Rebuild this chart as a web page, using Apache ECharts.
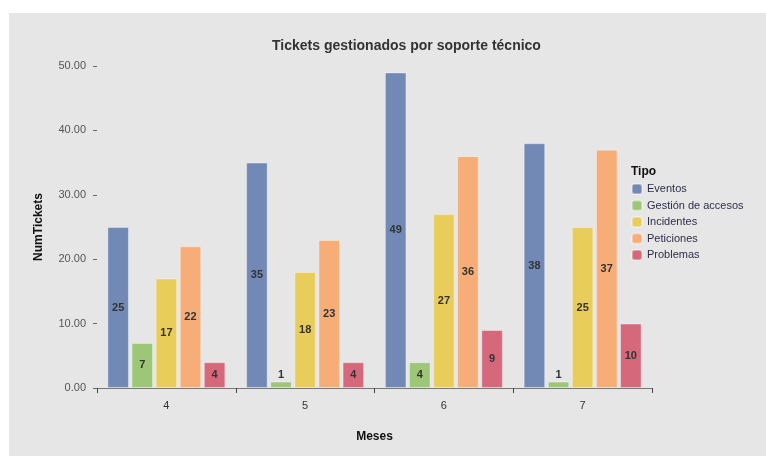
<!DOCTYPE html>
<html>
<head>
<meta charset="utf-8">
<script src="https://cdn.jsdelivr.net/npm/echarts@6/dist/echarts.min.js"></script>
<style>
  html, body { margin: 0; padding: 0; background: #ffffff; }
  #chart { position: absolute; left: 9px; top: 13px; width: 757px; height: 443px; background: #e6e6e6; }
</style>
</head>
<body>
<div id="chart"></div>
<script>
// Tickets per month, grouped by ticket type
const meses = ['4', '5', '6', '7'];
const tipos = ['Eventos', 'Gestión de accesos', 'Incidentes', 'Peticiones', 'Problemas'];
const eventos = [25, 35, 49, 38];
const gestionAccesos = [7, 1, 4, 1];
const incidentes = [17, 18, 27, 25];
const peticiones = [22, 23, 36, 37];
const problemas = [4, 4, 9, 10];
const yTicks = [0, 10, 20, 30, 40, 50];

const colores = ['#7189b4', '#9dc777', '#e9cd5b', '#f7ad78', '#d5697b'];
const valores = [eventos, gestionAccesos, incidentes, peticiones, problemas];

const FONT = '"Liberation Sans", Arial, sans-serif';

// Very short bars get their label above the bar instead of inside
function puntos(arr) {
  return arr.map(v => v < 2 ? { value: v, label: { position: 'top', distance: 1 } } : v);
}

const chart = echarts.init(document.getElementById('chart'), null, { renderer: 'canvas' });

chart.setOption({
  backgroundColor: '#e6e6e6',
  animation: false,
  textStyle: { fontFamily: FONT },
  title: [
    {
      text: 'Tickets gestionados por soporte técnico',
      left: 258, top: 21,
      textStyle: { fontFamily: FONT, fontSize: 14, fontWeight: 'bold', color: '#333333' }
    },
    {
      text: 'Tipo',
      left: 622, top: 153, padding: 0,
      textStyle: { fontFamily: FONT, fontSize: 12, fontWeight: 'bold', color: '#111111' }
    }
  ],
  legend: {
    orient: 'vertical',
    left: 622, top: 170,
    padding: 0,
    itemWidth: 10, itemHeight: 10, itemGap: 4.5,
    icon: 'roundRect',
    data: tipos,
    textStyle: { fontFamily: FONT, fontSize: 11, color: '#2e2e48' }
  },
  grid: { left: 88, right: 114, top: 53, bottom: 68, containLabel: false },
  xAxis: {
    type: 'category',
    data: meses,
    name: 'Meses',
    nameLocation: 'middle',
    nameGap: 43,
    nameTextStyle: { fontFamily: FONT, fontSize: 12, fontWeight: 'bold', color: '#111111' },
    axisLine: { show: true, lineStyle: { color: '#777777', width: 1 } },
    axisTick: { show: true, alignWithLabel: false, interval: 0, length: 5, lineStyle: { color: '#444444', width: 1 } },
    axisLabel: { margin: 12, fontFamily: FONT, fontSize: 11, color: '#333333' }
  },
  yAxis: {
    type: 'value',
    min: yTicks[0], max: yTicks[yTicks.length - 1], interval: 10,
    name: 'NumTickets',
    nameLocation: 'middle',
    nameGap: 52,
    nameTextStyle: { fontFamily: FONT, fontSize: 12, fontWeight: 'bold', color: '#111111' },
    axisLine: { show: false },
    axisTick: { show: true, length: 4, lineStyle: { color: '#666666' } },
    splitLine: { show: false },
    axisLabel: {
      margin: 11, fontFamily: FONT, fontSize: 11, color: '#555555',
      formatter: v => v.toFixed(2)
    }
  },
  series: tipos.map((t, i) => ({
    name: t,
    type: 'bar',
    data: puntos(valores[i]),
    barCategoryGap: '15%',
    barGap: '12%',
    itemStyle: { color: colores[i], borderColor: 'rgba(255,255,255,0.35)', borderWidth: 1 },
    label: {
      show: true,
      position: 'inside',
      fontFamily: FONT, fontSize: 11, fontWeight: 'bold', color: '#333333'
    }
  }))
});
</script>
</body>
</html>
